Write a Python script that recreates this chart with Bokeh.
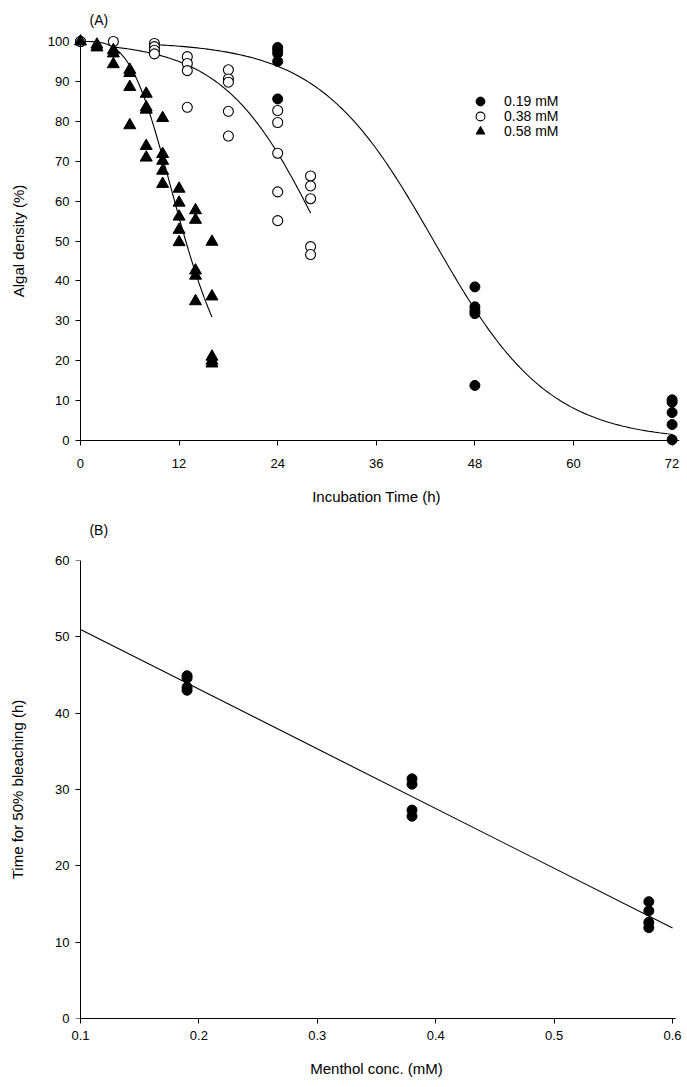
import numpy as np
from bokeh.plotting import figure
from bokeh.models import (Range1d, Legend, LegendItem, FixedTicker, Title,
                          LinearAxis)
from bokeh.layouts import column
from bokeh.embed import file_html
from bokeh.resources import INLINE

FONT = "Liberation Sans"

# ---------------- Panel A data ----------------
t_019 = [0, 24, 24, 24, 24, 24, 48, 48, 48, 48, 48, 72, 72, 72, 72, 72]
y_019 = [100, 98.5, 97.8, 97.0, 95.0, 85.6, 38.5, 33.5, 32.5, 31.8, 13.8,
         10.2, 9.6, 7.0, 4.0, 0.2]

t_038 = [0, 4, 9, 9, 9, 9, 13, 13, 13, 13, 18, 18, 18, 18, 18,
         24, 24, 24, 24, 24, 28, 28, 28, 28, 28]
y_038 = [100, 100, 99.5, 98.7, 97.8, 96.9, 96.2, 94.5, 92.7, 83.5,
         92.9, 90.6, 89.8, 82.5, 76.3, 82.7, 79.7, 72.0, 62.3, 55.1,
         66.3, 63.8, 60.6, 48.6, 46.6]

t_058 = [0, 2, 2, 4, 4, 4, 6, 6, 6, 6, 8, 8, 8, 8, 8, 10, 10, 10, 10, 10,
         12, 12, 12, 12, 12, 14, 14, 14, 14, 14, 16, 16, 16, 16, 16]
y_058 = [100, 99.2, 98.5, 97.8, 97.0, 94.3, 92.9, 92.1, 88.6, 79.0,
         86.9, 83.5, 82.9, 73.8, 70.9, 80.8, 71.8, 70.1, 67.6, 64.3,
         63.1, 59.6, 56.1, 52.8, 49.7, 57.7, 55.3, 42.6, 41.3, 34.9,
         49.8, 36.1, 21.0, 20.0, 19.3]

series_labels = ["0.19 mM", "0.38 mM", "0.58 mM"]

# fitted sigmoid curve parameters (a, t0, b, t_start, t_end)
fit_019 = [100, 43.0, 7.0, 9.5, 72]    # logistic
fit_038 = [100, 29.7, 6.03, 4, 28]     # logistic
fit_058 = [100, 12.81, 3.61, 0, 16]    # hill

x_ticks_A = [0, 12, 24, 36, 48, 60, 72]
y_ticks_A = [0, 10, 20, 30, 40, 50, 60, 70, 80, 90, 100]

# ---------------- Panel B data ----------------
conc_B = [0.19, 0.19, 0.19, 0.19, 0.38, 0.38, 0.38, 0.38, 0.58, 0.58, 0.58, 0.58]
time50_B = [44.9, 44.6, 43.4, 43.0, 31.4, 30.7, 27.3, 26.5, 15.3, 14.1, 12.6, 11.9]

x_ticks_B = [0.1, 0.2, 0.3, 0.4, 0.5, 0.6]
y_ticks_B = [0, 10, 20, 30, 40, 50, 60]


def logistic(p):
    a, t0, b, ts, te = p
    t = np.linspace(ts, te, 200)
    return t, a / (1 + np.exp((t - t0) / b))


def hill(p):
    a, t0, b, ts, te = p
    t = np.linspace(ts, te, 200)
    return t, a / (1 + (t / t0) ** b)


def style_axis(ax, tick_out, tick_std, label_std, show_line=True):
    ax.axis_line_color = "black" if show_line else None
    ax.axis_line_width = 1
    ax.major_tick_line_color = "black" if show_line else None
    ax.major_tick_in = 0
    ax.major_tick_out = tick_out
    ax.minor_tick_line_color = None
    ax.major_label_text_font = FONT
    ax.major_label_text_font_size = "13px"
    ax.major_label_text_color = "black"
    ax.major_label_standoff = tick_std
    ax.axis_label_text_font = FONT
    ax.axis_label_text_font_size = "15px"
    ax.axis_label_text_font_style = "normal"
    ax.axis_label_text_color = "black"
    ax.axis_label_standoff = label_std


def origin_axis(loc, bounds, ticks):
    # axis line + tick marks (no labels) pinned at a data location
    return LinearAxis(fixed_location=loc, bounds=bounds,
                      ticker=FixedTicker(ticks=[], minor_ticks=ticks),
                      axis_line_color="black", axis_line_width=1,
                      major_tick_line_color=None,
                      minor_tick_line_color="black", minor_tick_line_width=1,
                      minor_tick_in=5, minor_tick_out=0)


# ---------------- Panel A ----------------
pA = figure(width=687, height=515, output_backend="svg", toolbar_location=None,
            x_range=Range1d(-0.85, 72.9), y_range=Range1d(-2.0, 102.0),
            min_border_left=73, min_border_right=8, min_border_top=33,
            min_border_bottom=67, title=None)
pA.xgrid.visible = False
pA.ygrid.visible = False
pA.outline_line_color = None

for p_, f_ in ((fit_019, logistic), (fit_038, logistic), (fit_058, hill)):
    cx, cy = f_(p_)
    pA.line(cx, cy, line_color="black", line_width=1.1)

r1 = pA.scatter(t_019, y_019, marker="circle", size=10, fill_color="black",
                line_color="black")
r2 = pA.scatter(t_038, y_038, marker="circle", size=10, fill_color="white",
                line_color="black", line_width=1.1)
r3 = pA.scatter(t_058, y_058, marker="triangle", size=12, fill_color="black",
                line_color="black")

# label-only axes at the frame edges
axA_x = pA.below[0]
axA_y = pA.left[0]
axA_x.ticker = FixedTicker(ticks=x_ticks_A)
axA_y.ticker = FixedTicker(ticks=y_ticks_A)
axA_x.axis_label = "Incubation Time (h)"
axA_y.axis_label = "Algal density (%)"
style_axis(axA_x, 0, 10, 17, show_line=False)
style_axis(axA_y, 0, 4, 18, show_line=False)

pA.add_layout(Title(text="(A)", align="left", offset=16, text_font=FONT,
                    text_font_size="14px", text_font_style="normal",
                    text_color="black", standoff=12), "above")
pA.add_layout(origin_axis(0, (0, 72.9), x_ticks_A), "above")
pA.add_layout(origin_axis(0, (0, 100), y_ticks_A), "right")

rows_y = [336, 321, 306]
for lab, rend, ly in zip(series_labels, [r1, r2, r3], rows_y):
    leg = Legend(items=[LegendItem(label=lab, renderers=[rend])],
                 location=(396, ly), glyph_width=22, glyph_height=22,
                 label_height=22, spacing=0, padding=0, margin=0,
                 label_standoff=13, label_text_font=FONT,
                 label_text_font_size="14px", label_text_color="black",
                 border_line_color=None, background_fill_alpha=0)
    pA.add_layout(leg, "center")

# ---------------- Panel B ----------------
pB = figure(width=687, height=572, output_backend="svg", toolbar_location=None,
            x_range=Range1d(0.09409, 0.60591), y_range=Range1d(0, 60),
            min_border_left=73, min_border_right=8, min_border_top=45,
            min_border_bottom=69, title=None)
pB.xgrid.visible = False
pB.ygrid.visible = False
pB.outline_line_color = None

slope, intercept = np.polyfit(conc_B, time50_B, 1)
lx = np.array([0.1, 0.6])
pB.line(lx, slope * lx + intercept, line_color="black", line_width=1.1)
pB.scatter(conc_B, time50_B, marker="circle", size=10, fill_color="black",
           line_color="black")

axB_x = pB.below[0]
axB_y = pB.left[0]
axB_x.ticker = FixedTicker(ticks=x_ticks_B)
axB_y.ticker = FixedTicker(ticks=y_ticks_B)
axB_x.axis_label = "Menthol conc. (mM)"
axB_y.axis_label = "Time for 50% bleaching (h)"
axB_x.bounds = (0.1, 0.6025)
style_axis(axB_x, 5, 7, 17)
style_axis(axB_y, 0, 4, 26, show_line=False)
pB.add_layout(origin_axis(0.1, (0, 60), y_ticks_B), "right")

# panel letter as an axis label above the frame
tagB = LinearAxis(ticker=FixedTicker(ticks=[]), bounds=(0.1076, 0.6),
                  axis_line_color=None, major_tick_line_color=None,
                  minor_tick_line_color=None, major_tick_out=0,
                  major_tick_in=0, major_label_standoff=0,
                  axis_label="\u00a0" * 13 + "(B)",
                  axis_label_align="start", axis_label_text_align="left",
                  axis_label_standoff=23, axis_label_text_font=FONT,
                  axis_label_text_font_size="14px",
                  axis_label_text_font_style="normal",
                  axis_label_text_color="black")
pB.add_layout(tagB, "above")

layout = column(pA, pB)
open("out.html", "w").write(file_html(layout, INLINE))
